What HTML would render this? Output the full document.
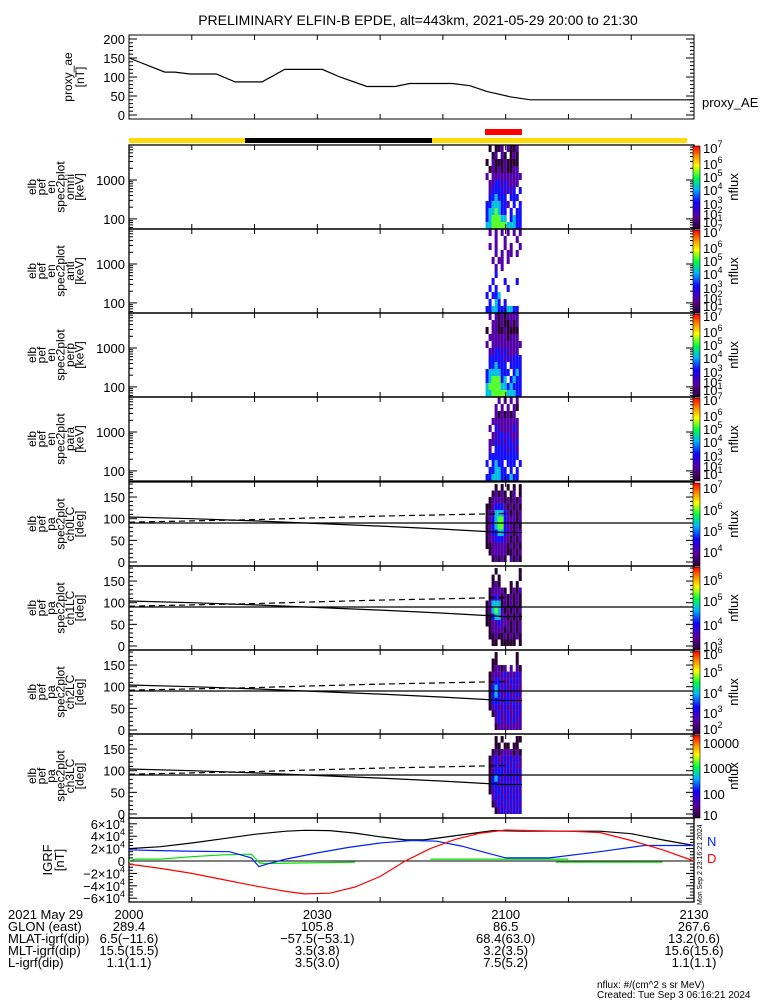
<!DOCTYPE html>
<html><head><meta charset="utf-8">
<style>
html,body{margin:0;padding:0;background:#fff;}
svg{display:block;font-family:"Liberation Sans",sans-serif;}
text{fill:#000;}
</style></head>
<body>
<svg id="c" width="775" height="1000" viewBox="0 0 775 1000" xmlns="http://www.w3.org/2000/svg"></svg>
<script>
// ---------- data ----------
const aeTimes = [0,5.7,7.3,9.7,13.9,16.9,21.2,24.8,30.8,33.6,37.9,42.4,44.7,51.5,54.3,57,60.7,63.9,90];
const aeValues = [150,113,113,108,108,87,87,120,120,100,75,75,83,83,77,62,48,40,40];
const aeTicks = [0,50,100,150,200];
const timeTickLabels = ["2000","2030","2100","2130"];
const timeTickMinutes = [0,30,60,90];
const glonValues = ["289.4","105.8","86.5","267.6"];
const mlatValues = ["6.5(\u221211.6)","\u221257.5(\u221253.1)","68.4(63.0)","13.2(0.6)"];
const mltValues = ["15.5(15.5)","3.5(3.8)","3.2(3.5)","15.6(15.6)"];
const lValues = ["1.1(1.1)","3.5(3.0)","7.5(5.2)","1.1(1.1)"];
const specNames = ["omni","anti","perp","para"];
const paNames = ["ch0LC","ch1LC","ch2LC","ch3LC"];
const colStart = 56.8, colWidth = 0.48;
// log flux level per cell, rows bottom(low energy)->top, 0 = no data
const specOmni = ["445555544433","345554403433","344543303033","334443320303","033433303330","023333232303","022332322220","202222222222","012121211220","102111211110","001202101210","010112021120"];
const specAnti = ["334433344330","030430300000","303340000000","030300030000","003000300030","000300000000","000202000000","002022020000","000202022020","020200202002","000200200020","020202020202"];
const specPerp = ["445555544433","455554434333","345553403433","344443330343","033433303333","033333232333","022332322220","202222222222","022222212220","102211211110","002212112120","020212122220"];
const specPara = ["334443334330","033443303030","303433033303","033333333330","020333323320","022323233230","002233232220","020322222320","002222222220","000212121200","000202020210","000020202020"];
// pitch-angle panels, rows 0-15deg ... 165-180deg
const paCh0 = ["001212102121","012222211212","112222212121","122333221212","123344322122","123455322121","123455322212","122444321212","112333212121","012222121212","001212101201","000101010101"];
const paCh1 = ["001101111101","011211212121","012222121212","112232221212","113442212121","124542121212","124441212121","012321212121","012222101212","001210001010","001010000001","000100000001"];
const paCh2 = ["000122222222","000232232322","001232232232","012322322323","013332332322","013432232232","013432322322","012332223232","012222322232","001221202021","001100000010","000100000010"];
const paCh3 = ["000123232323","001232323232","002323232323","012332323232","013323232323","013432323232","012333232323","012323232322","012322323232","001212222121","000110110110","000101000011"];
const lcTimes = [0,10,20,30,40,50,60];
const lcSolid = [104,100,95,89,83,76,68];
const lcDashed = [92,95,98,102,106,109,112];
const fTimes = [0,5,10,15,20,25,28,32,36,40,44,47,50,55,58,63,70,75,80,85,90];
const fValues = [2.0,2.3,2.9,3.6,4.3,4.8,4.95,4.9,4.5,3.9,3.4,3.4,3.8,4.5,4.9,4.8,4.8,4.8,4.4,3.4,2.5];
const nTimes = [0,4,9,16,19.5,20.7,22,25,30,35,40,45,49,53,57,60,67,75,82,90];
const nValues = [1.8,1.7,1.6,1.5,0.5,-0.9,-0.5,0.3,1.3,2.2,2.9,3.3,3.2,2.4,1.3,0.5,0.5,1.5,2.5,2.5];
const dTimes = [0,5,10,15,20,25,28,32,36,40,44,48,52,56,60,64,70,75,80,85,90];
const dValues = [-0.5,-1.2,-2.0,-3.0,-4.0,-4.9,-5.3,-5.2,-4.2,-2.5,0,2.0,3.5,4.5,5.0,4.9,4.8,4.6,3.3,1.8,0];
const gTimes = [0,1,5,10,15,19.5,20.8,21.5,36];
const gValues = [0,0.3,0.3,0.7,1.0,1.1,-0.3,-0.4,-0.2];
const g2Times = [48,70]; const g2Values = [0.3,0.3];
const g3Times = [68,85]; const g3Values = [-0.2,-0.2];
const igrfTicks = [-6,-4,-2,0,2,4,6];
const specCbLabels = ["7","6","5","4","3","2","1"];
const specCbOffsets = [3,19,32,45,59,69,77];

// ---------- helpers ----------
const NS = "http://www.w3.org/2000/svg";
const svg = document.getElementById("c");
function mk(tag, attrs, parent){ const e=document.createElementNS(NS,tag); for(const k in attrs) e.setAttribute(k,attrs[k]); (parent||svg).appendChild(e); return e; }
const X0=129, X1=694;
function xT(m){ return X0 + m*(X1-X0)/90; }
const stops=[[0,[40,0,50]],[0.15,[90,0,160]],[0.32,[20,0,255]],[0.48,[0,180,255]],[0.62,[0,255,60]],[0.76,[255,255,0]],[0.88,[255,140,0]],[1,[255,0,0]]];
function cmap(t){ t=Math.max(0,Math.min(1,t)); for(let i=1;i<stops.length;i++){ if(t<=stops[i][0]){ const a=stops[i-1],b=stops[i]; const f=(t-a[0])/(b[0]-a[0]); const c=a[1].map((v,j)=>Math.round(v+(b[1][j]-v)*f)); return `rgb(${c[0]},${c[1]},${c[2]})`; } } return "rgb(255,0,0)"; }
function txt(x,y,s,size,anchor,parent){ const t=mk("text",{x:x,y:y,"font-size":size||13,"text-anchor":anchor||"start"},parent); t.textContent=s; return t; }
function pw(x,y,exp,parent){ const t=mk("text",{x:x,y:y,"font-size":13},parent); t.textContent="10"; const s=mk("tspan",{dy:-6,"font-size":9},t); s.textContent=exp; return t; }
function poly(ts,vs,fx,fy,color,dash,parent){ const pts=ts.map((t,i)=>fx(t).toFixed(1)+","+fy(vs[i]).toFixed(1)).join(" "); const a={points:pts,fill:"none",stroke:color,"stroke-width":1.2}; if(dash) a["stroke-dasharray"]=dash; return mk("polyline",a,parent); }
function timeTicks(top,bot,g){ for(let m=0;m<=90;m+=10){ const x=xT(m); mk("line",{x1:x,y1:top,x2:x,y2:top+5,stroke:"#000"},g); mk("line",{x1:x,y1:bot,x2:x,y2:bot-5,stroke:"#000"},g);} }
function vLabels(lines,top,bot,g){ const cy=(top+bot)/2; const x0=36; lines.forEach((s,i)=>{ const x=x0+i*9.5; const t=mk("text",{x:x,y:cy,"font-size":12,"text-anchor":"middle",transform:`rotate(-90 ${x} ${cy})`},g); t.textContent=s; }); }
function colorbar(top,bot,g){ const id="grad"+top; const d=mk("linearGradient",{id:id,x1:0,y1:1,x2:0,y2:0},g); stops.forEach(s=>mk("stop",{offset:s[0],"stop-color":cmap(s[0])},d)); mk("rect",{x:693,y:top+1,width:7,height:bot-top-1,fill:`url(#${id})`,stroke:"#000","stroke-width":0.6},g); const cy=(top+bot)/2; const t=mk("text",{x:738,y:cy,"font-size":13,"text-anchor":"middle",transform:`rotate(-90 738 ${cy})`},g); t.textContent="nflux"; }

// ---------- title ----------
const title=txt(418,25,"PRELIMINARY ELFIN-B EPDE, alt=443km, 2021-05-29 20:00 to 21:30",14,"middle");



// ---------- proxy AE ----------
const gAE=mk("g",{});


const aeTop=35, aeBot=119;
function yAE(v){ return 115 - v*0.38; }
mk("rect",{x:X0,y:aeTop,width:X1-X0,height:aeBot-aeTop,fill:"none",stroke:"#000"},gAE);
aeTicks.forEach(v=>{ const y=yAE(v); txt(125,y+5,String(v),13,"end",gAE); mk("line",{x1:X0,y1:y,x2:X0+8,y2:y,stroke:"#000"},gAE); mk("line",{x1:X1,y1:y,x2:X1-8,y2:y,stroke:"#000"},gAE); });
for(let v=10;v<=200;v+=10){ const y=yAE(v); mk("line",{x1:X0,y1:y,x2:X0+4,y2:y,stroke:"#000"},gAE); mk("line",{x1:X1,y1:y,x2:X1-4,y2:y,stroke:"#000"},gAE); }
timeTicks(aeTop,aeBot,gAE);
const aeLine=poly(aeTimes,aeValues,xT,yAE,"#000",null,gAE);


vLabels(["proxy_ae","[nT]"],aeTop,aeBot,gAE);
gAE.lastChild.setAttribute("x",84); gAE.lastChild.setAttribute("transform","rotate(-90 84 77)");
gAE.lastChild.previousSibling.setAttribute("x",72); gAE.lastChild.previousSibling.setAttribute("transform","rotate(-90 72 77)");
const aeLeg=txt(702,107,"proxy_AE",13,"start",gAE);



// ---------- orbit bars ----------
const sci=mk("rect",{x:485,y:129,width:37,height:6,fill:"#ff0000"});


const sun=mk("rect",{x:X0,y:138,width:X1-X0-7,height:5,fill:"#ffdc00"});


const shade=mk("rect",{x:245,y:138,width:187,height:5,fill:"#000"});



// ---------- spectrogram panels ----------
const specTops=[145,229,313,397];
const specData=[specOmni,specAnti,specPerp,specPara];
const logLo=1.74, logHi=3.9;
specData.forEach((grid,p)=>{
  const top=specTops[p], bot=top+84;
  const g=mk("g",{});
  
  
  const nr=grid.length;
  grid.forEach((row,r)=>{ [...row].forEach((ch,c)=>{ const v=+ch; if(!v) return;
    const x=xT(colStart+c*colWidth), x2=xT(colStart+(c+1)*colWidth);
    const yb=bot-(r/nr)*84, yt=bot-((r+1)/nr)*84;
    const cell=mk("rect",{x:x,y:yt,width:x2-x,height:yb-yt,fill:cmap((v-1)/6)},g);
    
    
  });});
  mk("rect",{x:X0,y:top,width:X1-X0,height:84,fill:"none",stroke:"#000","stroke-width":1.3},g);
  function yE(e){ return bot-(Math.log10(e)-logLo)/(logHi-logLo)*84; }
  for(let d=10;d<=1000;d*=10){ for(let k=1;k<10;k++){ const e=d*k; const y=yE(e); if(y<top+1||y>bot-1) continue; const L=(k===1)?8:4; mk("line",{x1:X0,y1:y,x2:X0+L,y2:y,stroke:"#000"},g); mk("line",{x1:X1,y1:y,x2:X1-L,y2:y,stroke:"#000"},g);} }
  [100,1000].forEach(e=>txt(125,yE(e)+5,String(e),13,"end",g));
  timeTicks(top,bot,g);
  vLabels(["elb","pef","en","spec2plot",specNames[p],"[keV]"],top,bot,g);
  colorbar(top,bot,g);
  specCbLabels.forEach((ex,i)=>pw(703,top+specCbOffsets[i]+5,ex,g));
});

// ---------- pitch angle panels ----------
const paTops=[482,566,650,734];
const paData=[paCh0,paCh1,paCh2,paCh3];
const paCb=[[["7",6],["6",28],["5",49],["4",70]],[["6",14],["5",35],["4",59],["3",80]],[["6",4],["5",22],["4",43],["3",63],["2",79]]];
paData.forEach((grid,p)=>{
  const top=paTops[p], bot=top+84;
  const g=mk("g",{});
  
  
  function yP(d){ return top+80-d*0.433; }
  const nr=grid.length;
  grid.forEach((row,r)=>{ [...row].forEach((ch,c)=>{ const v=+ch; if(!v) return;
    const x=xT(colStart+c*colWidth), x2=xT(colStart+(c+1)*colWidth);
    const yb=yP(r*180/nr), yt=yP((r+1)*180/nr);
    const cell=mk("rect",{x:x,y:yt,width:x2-x,height:yb-yt,fill:cmap((v-1)/6)},g);
    
    
  });});
  mk("rect",{x:X0,y:top,width:X1-X0,height:84,fill:"none",stroke:"#000","stroke-width":1.3},g);
  mk("line",{x1:X0,y1:yP(90),x2:X1,y2:yP(90),stroke:"#000","stroke-width":1.2},g);
  const s=poly(lcTimes,lcSolid,xT,yP,"#000",null,g);
  
  
  const d=poly(lcTimes,lcDashed,xT,yP,"#000","6,4",g);
  
  
  mk("line",{x1:xT(60),y1:yP(lcSolid[6]),x2:xT(62.6),y2:yP(lcSolid[6]),stroke:"#000"},g);
  for(let a=0;a<=180;a+=10){ const y=yP(a); const L=(a%50===0)?8:4; mk("line",{x1:X0,y1:y,x2:X0+L,y2:y,stroke:"#000"},g); mk("line",{x1:X1,y1:y,x2:X1-L,y2:y,stroke:"#000"},g); }
  [0,50,100,150].forEach(a=>txt(125,yP(a)+5,String(a),13,"end",g));
  timeTicks(top,bot,g);
  vLabels(["elb","pef","pa","spec2plot",paNames[p],"[deg]"],top,bot,g);
  colorbar(top,bot,g);
  if(p<3) paCb[p].forEach(l=>pw(703,top+l[1]+5,l[0],g));
  else [["10000",9],["1000",34],["100",60],["10",81]].forEach(l=>txt(703,top+l[1]+5,l[0],13,"start",g));
});

// ---------- IGRF panel ----------
const gI=mk("g",{});


const iTop=818, iBot=902;
function yI(v){ return 861 - v*6.2; }
mk("rect",{x:X0,y:iTop,width:X1-X0,height:84,fill:"none",stroke:"#000","stroke-width":1.3},gI);
mk("line",{x1:X0,y1:yI(0),x2:X1,y2:yI(0),stroke:"#000"},gI);
for(let v=-6;v<=6;v+=0.5){ const y=yI(v); const L=(v%2===0)?8:4; mk("line",{x1:X0,y1:y,x2:X0+L,y2:y,stroke:"#000"},gI); mk("line",{x1:X1,y1:y,x2:X1-L,y2:y,stroke:"#000"},gI); }
igrfTicks.forEach(v=>{ const y=yI(v)+5; if(v===0){ txt(125,y,"0",13,"end",gI); return;} const t=mk("text",{x:125,y:y,"font-size":13,"text-anchor":"end"},gI); t.textContent=(v<0?"\u2212":"")+Math.abs(v)+"\u00d710"; const s=mk("tspan",{dy:-6,"font-size":9},t); s.textContent="4"; });
timeTicks(iTop,iBot,gI);
const igL1=mk("text",{x:52,y:860,"font-size":13,"text-anchor":"middle",transform:"rotate(-90 52 860)"},gI); igL1.textContent="IGRF";


const igL2=mk("text",{x:64,y:860,"font-size":13,"text-anchor":"middle",transform:"rotate(-90 64 860)"},gI); igL2.textContent="[nT]";


const fl=poly(fTimes,fValues,xT,yI,"#000",null,gI);


const gl=poly(gTimes,gValues,xT,yI,"#00e000",null,gI);


const gl2=poly(g2Times,g2Values,xT,yI,"#00e000",null,gI);


const gl3=poly(g3Times,g3Values,xT,yI,"#00e000",null,gI);


const nl=poly(nTimes,nValues,xT,yI,"#0020ff",null,gI);


const dl=poly(dTimes,dValues,xT,yI,"#ff0000",null,gI);


const nLab=mk("text",{x:707,y:846,"font-size":13,style:"fill:#0020ff"},gI); nLab.textContent="N";


const dLab=mk("text",{x:707,y:863,"font-size":13,style:"fill:#ff0000"},gI); dLab.textContent="D";


const stamp=mk("text",{x:702,y:905,"font-size":7,transform:"rotate(-90 702 905)"},gI); stamp.textContent="Mon Sep  2 23:16:21 2024";



// ---------- bottom annotation ----------
const gB=mk("g",{});


const rowY=[919,931,943,955,967];
["2021 May 29","GLON (east)","MLAT-igrf(dip)","MLT-igrf(dip)","L-igrf(dip)"].forEach((s,i)=>txt(8,rowY[i],s,13,"start",gB));
const rows=[timeTickLabels,glonValues,mlatValues,mltValues,lValues];
rows.forEach((arr,i)=>arr.forEach((s,j)=>{ let x=xT(timeTickMinutes[j]); txt(x,rowY[i],s,13,"middle",gB); }));
txt(597,988,"nflux: #/(cm^2 s sr MeV)",10,"start",gB);
txt(597,998,"Created: Tue Sep  3 06:16:21 2024",10,"start",gB);
</script>
</body></html>
